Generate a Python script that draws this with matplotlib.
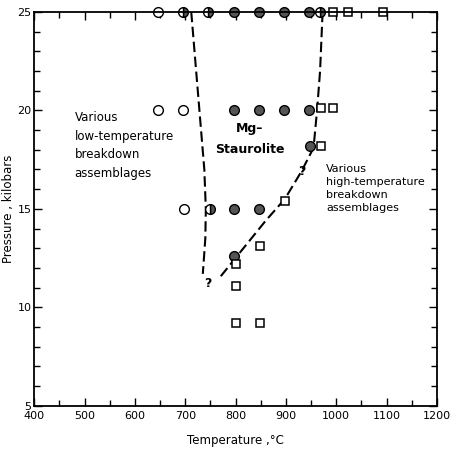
import matplotlib
matplotlib.use("Agg")
import matplotlib.pyplot as plt

# experiment results (temperature C, pressure kbar)
open_T = [645, 695, 645, 698]
open_P = [25, 20, 20, 15]

half_T = [695, 745, 968, 750]
half_P = [25, 25, 25, 15]

filled_T = [797, 847, 897, 945, 797, 847, 897, 945, 947, 797, 847, 797]
filled_P = [25, 25, 25, 25, 20, 20, 20, 20, 18.2, 15, 15, 12.6]

square_T = [994, 1024, 1093, 970, 994, 970, 898, 848, 800, 800, 800, 848]
square_P = [25, 25, 25, 20.1, 20.1, 18.2, 15.4, 13.1, 12.2, 11.1, 9.2, 9.2]

# phase boundaries (dashed)
low_T = [712, 725, 738, 741, 740, 735]
low_P = [25, 21, 17, 15, 13.5, 11.7]
high_T = [973, 968, 962, 955, 945, 931, 898, 860, 765]
high_P = [25, 22, 20, 18.1, 17.6, 16.9, 15.5, 14.4, 11.4]

fig = plt.figure(figsize=(4.56, 4.54), dpi=100)
ax = fig.add_axes([0.075, 0.106, 0.883, 0.868])

ax.plot(low_T, low_P, color="black", lw=1.5, ls=(0, (5, 2.2)))
ax.plot(high_T, high_P, color="black", lw=1.5, ls=(0, (5, 2.2)))

ms = 7
ax.plot(open_T, open_P, "o", ms=ms, mfc="white", mec="black", mew=1.0, clip_on=False)
ax.plot(half_T, half_P, "o", ms=ms, fillstyle="right", mfc="#555555", mfcalt="white",
        mec="black", mew=1.0, clip_on=False)
ax.plot(filled_T, filled_P, "o", ms=ms, mfc="#555555", mec="black", mew=1.0, clip_on=False)
ax.plot(square_T, square_P, "s", ms=6, mfc="white", mec="black", mew=1.1, clip_on=False)

ax.text(745, 11.2, "?", fontsize=9, fontweight="bold", ha="center", va="center")
ax.text(932, 16.9, "?", fontsize=9, fontweight="bold", ha="center", va="center")

ax.text(480, 19.95, "Various\nlow-temperature\nbreakdown\nassemblages",
        fontsize=8.5, ha="left", va="top", linespacing=1.55)
ax.text(828, 19.1, "Mg\u2013", fontsize=9, fontweight="bold", ha="center", va="center")
ax.text(828, 18.0, "Staurolite", fontsize=9, fontweight="bold", ha="center", va="center")
ax.text(980, 17.3, "Various\nhigh-temperature\nbreakdown\nassemblages",
        fontsize=8, ha="left", va="top", linespacing=1.4)

ax.set_xlim(400, 1200)
ax.set_ylim(5, 25)
ax.set_xticks(range(400, 1201, 100))
ax.set_xticks(range(450, 1200, 100), minor=True)
ax.set_yticks([5, 10, 15, 20, 25])
ax.set_yticks(range(5, 26), minor=True)
ax.tick_params(which="both", direction="in", top=True, right=True, labelsize=8, width=1)
ax.tick_params(which="major", length=6)
ax.tick_params(which="minor", length=4)
ax.tick_params(axis="x", pad=4)
ax.tick_params(axis="y", pad=2)
for s in ax.spines.values():
    s.set_linewidth(1.3)

ax.set_xlabel("Temperature ,\u00b0C", fontsize=8.5, labelpad=9)
ax.set_ylabel("Pressure , kilobars", fontsize=8.5, labelpad=2)

fig.savefig("out.png", dpi=100)
